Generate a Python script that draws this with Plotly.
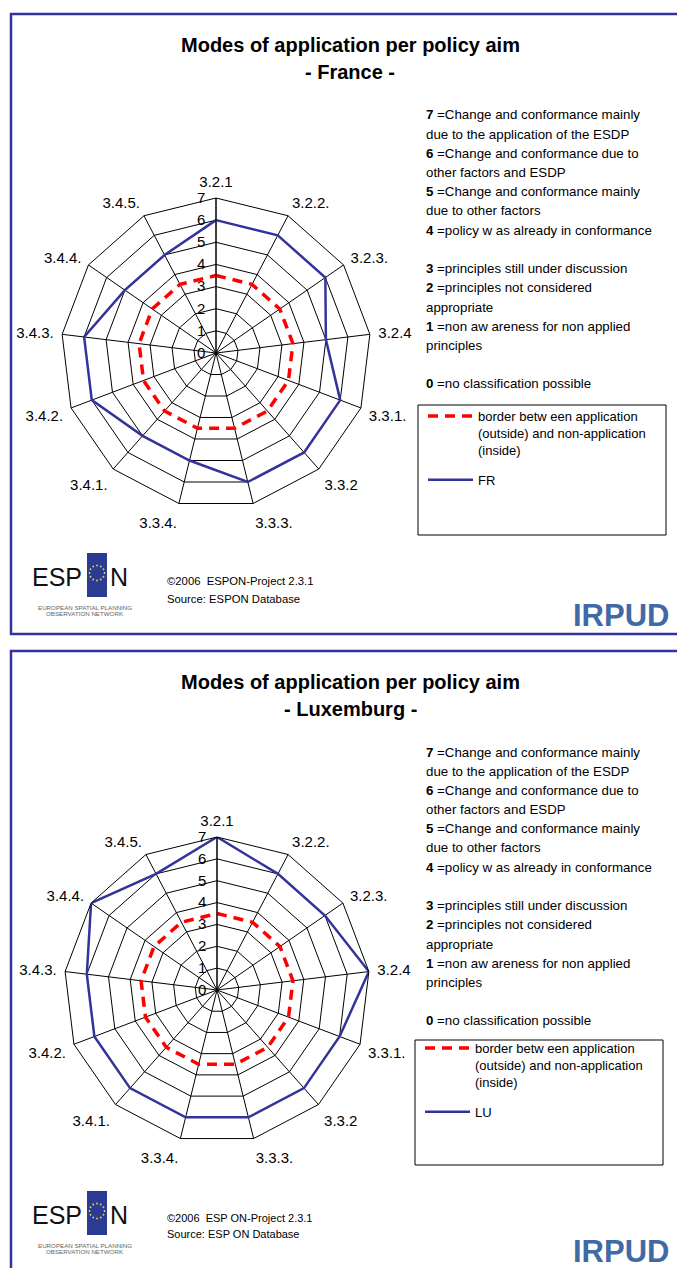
import math
import plotly.graph_objects as go

# ---------------- data ----------------
categories = ["3.2.1", "3.2.2.", "3.2.3.", "3.2.4", "3.3.1.", "3.3.2", "3.3.3.",
              "3.3.4.", "3.4.1.", "3.4.2.", "3.4.3.", "3.4.4.", "3.4.5."]
fr_values = [6, 6, 6, 5, 6, 6, 6, 5, 5, 6, 6, 5, 5]
lu_values = [7, 6, 6, 7, 6, 6, 6, 6, 6, 6, 6, 7, 6]
border_values = [3.5, 3.5, 3.5, 3.5, 3.5, 3.5, 3.5, 3.5, 3.5, 3.5, 3.5, 3.5, 3.5]
radial_ticks = [0, 1, 2, 3, 4, 5, 6, 7]

titles = ["- France -", "- Luxemburg -"]
country_codes = ["FR", "LU"]
border_name = "border betw een application<br>(outside) and non-application<br>(inside)"

key_lines = [
    "<b>7</b> =Change and conformance mainly",
    "due to the application of the ESDP",
    "<b>6</b> =Change and conformance due to",
    "other factors and ESDP",
    "<b>5</b> =Change and conformance mainly",
    "due to other factors",
    "<b>4</b> =policy w as already in conformance",
    "",
    "<b>3</b> =principles still under discussion",
    "<b>2</b> =principles not considered",
    "appropriate",
    "<b>1</b> =non aw areness for non applied",
    "principles",
    "",
    "<b>0</b> =no classification possible",
]
footer_lines = [["©2006  ESPON-Project 2.3.1", "Source: ESPON Database"],
                ["©2006  ESP ON-Project 2.3.1", "Source: ESP ON Database"]]

# ---------------- layout helpers ----------------
W, H = 677, 1268
FONT = "Arial, Liberation Sans, sans-serif"
NAVY = "#333399"


def px(x):
    return x / W


def py(y):
    return 1 - y / H


def close(seq):
    return list(seq) + [seq[0]]


def text(s, x, y, size, color="#000", xanchor="center", family=FONT):
    return dict(text=s, x=px(x), y=py(y), xref="paper", yref="paper", showarrow=False,
                xanchor=xanchor, yanchor="middle",
                font=dict(family=family, size=size, color=color))


fig = go.Figure()

panels = [
    dict(top=0, cx=216, cy=353, R=155, values=fr_values, polar="polar", legend="legend",
         box=(418, 405, 666, 535), leg=(423, 401), foot=(581, 599), logo=0, irpud=615),
    dict(top=637, cx=217, cy=990, R=153, values=lu_values, polar="polar2", legend="legend2",
         box=(415, 1040, 663, 1165), leg=(420, 1033), foot=(1218, 1234), logo=638, irpud=1251),
]

shapes = []
annotations = []

for i, p in enumerate(panels):
    t = p["top"]
    fig.add_trace(go.Scatterpolar(
        r=close(border_values), theta=close(categories), mode="lines",
        line=dict(color="#ff0000", width=3.5, dash="10px,7px"),
        name=border_name, subplot=p["polar"], legend=p["legend"],
        legendgroup="b%d" % i, hoverinfo="skip"))
    fig.add_trace(go.Scatterpolar(
        r=close(p["values"]), theta=close(categories), mode="lines",
        line=dict(color=NAVY, width=2.5),
        name=country_codes[i], subplot=p["polar"], legend=p["legend"],
        legendgroup="c%d" % i))

    # frame
    bottom = 634 if i == 0 else 1300
    shapes.append(dict(type="path", xref="paper", yref="paper",
                       path="M %f %f L %f %f L %f %f L %f %f" % (
                           px(690), py(14 + t), px(11), py(14 + t), px(11), py(bottom),
                           px(690), py(bottom)),
                       line=dict(color=NAVY, width=2.5)))
    # legend box
    bx0, by0, bx1, by1 = p["box"]
    shapes.append(dict(type="rect", xref="paper", yref="paper",
                       x0=px(bx0), x1=px(bx1), y0=py(by0), y1=py(by1),
                       line=dict(color="#000000", width=1), fillcolor="rgba(0,0,0,0)"))

    # titles
    annotations.append(text("<b>Modes of application per policy aim</b>", 350, 45 + t, 20))
    annotations.append(text("<b>%s</b>" % titles[i], 350, 72 + t, 20))
    # key
    for k, line in enumerate(key_lines):
        if line:
            annotations.append(text(line, 424, 115 + t + k * 19.2, 13.3, xanchor="left"))
    # footer
    for k, line in enumerate(footer_lines[i]):
        annotations.append(text(line, 165, p["foot"][k], 11.3 if i == 0 else 11, xanchor="left"))
    # IRPUD
    annotations.append(text("<b>IRPUD</b>", 571, p["irpud"], 31, color="#3f6aa6", xanchor="left"))
    # ESPON logo
    o = p["logo"]
    annotations.append(text("ESP", 30, 577 + o, 25, color="#111", xanchor="left"))
    shapes.append(dict(type="rect", xref="paper", yref="paper",
                       x0=px(87), x1=px(107), y0=py(553 + o), y1=py(597 + o),
                       line=dict(width=0), fillcolor="#2b3a93"))
    for s in range(12):
        a = 2 * math.pi * s / 12
        sx, sy = 97 + 7.5 * math.cos(a), 573 + o + 7.5 * math.sin(a)
        shapes.append(dict(type="circle", xref="paper", yref="paper",
                           x0=px(sx - 0.9), x1=px(sx + 0.9), y0=py(sy + 0.9), y1=py(sy - 0.9),
                           line=dict(width=0), fillcolor="#e6d64a"))
    annotations.append(text("N", 108, 577 + o, 25, color="#111", xanchor="left"))
    annotations.append(text("EUROPEAN SPATIAL PLANNING", 85, 607 + o, 6.2, color="#666"))
    annotations.append(text("OBSERVATION NETWORK", 85, 613 + o, 6.2, color="#666"))

polar_common = dict(
    bgcolor="rgba(0,0,0,0)",
    gridshape="linear",
    radialaxis=dict(range=[0, 7], tickvals=radial_ticks, angle=90, side="counterclockwise",
                    tickangle=90,
                    showline=True, linecolor="#000", linewidth=1,
                    gridcolor="#000", gridwidth=1,
                    ticks="outside", ticklen=5, tickcolor="rgba(0,0,0,0)",
                    tickfont=dict(family=FONT, size=15, color="#000")),
    angularaxis=dict(rotation=90, direction="clockwise", type="category",
                     showline=True, linecolor="#000", linewidth=1,
                     gridcolor="#000", gridwidth=1,
                     ticks="outside", ticklen=5, tickcolor="rgba(0,0,0,0)",
                     tickfont=dict(family=FONT, size=15, color="#000")),
)

layout_polars = {}
for p in panels:
    d = dict(polar_common)
    d["domain"] = dict(x=[px(p["cx"] - p["R"]), px(p["cx"] + p["R"])],
                       y=[py(p["cy"] + p["R"]), py(p["cy"] - p["R"])])
    layout_polars[p["polar"]] = d

legend_common = dict(bgcolor="rgba(0,0,0,0)", borderwidth=0, valign="top",
                     traceorder="grouped", tracegroupgap=10, itemwidth=45,
                     font=dict(family=FONT, size=13, color="#000"),
                     xanchor="left", yanchor="top", itemclick=False, itemdoubleclick=False)

fig.update_layout(
    width=W, height=H, margin=dict(l=0, r=0, t=0, b=0),
    paper_bgcolor="#ffffff", plot_bgcolor="#ffffff",
    showlegend=True,
    legend=dict(legend_common, x=px(panels[0]["leg"][0]), y=py(panels[0]["leg"][1])),
    legend2=dict(legend_common, x=px(panels[1]["leg"][0]), y=py(panels[1]["leg"][1])),
    shapes=shapes, annotations=annotations,
    **layout_polars,
)

fig.write_html("out.html", config={"displayModeBar": False},
               post_script="document.body.style.margin='0';document.body.style.overflow='hidden';")
